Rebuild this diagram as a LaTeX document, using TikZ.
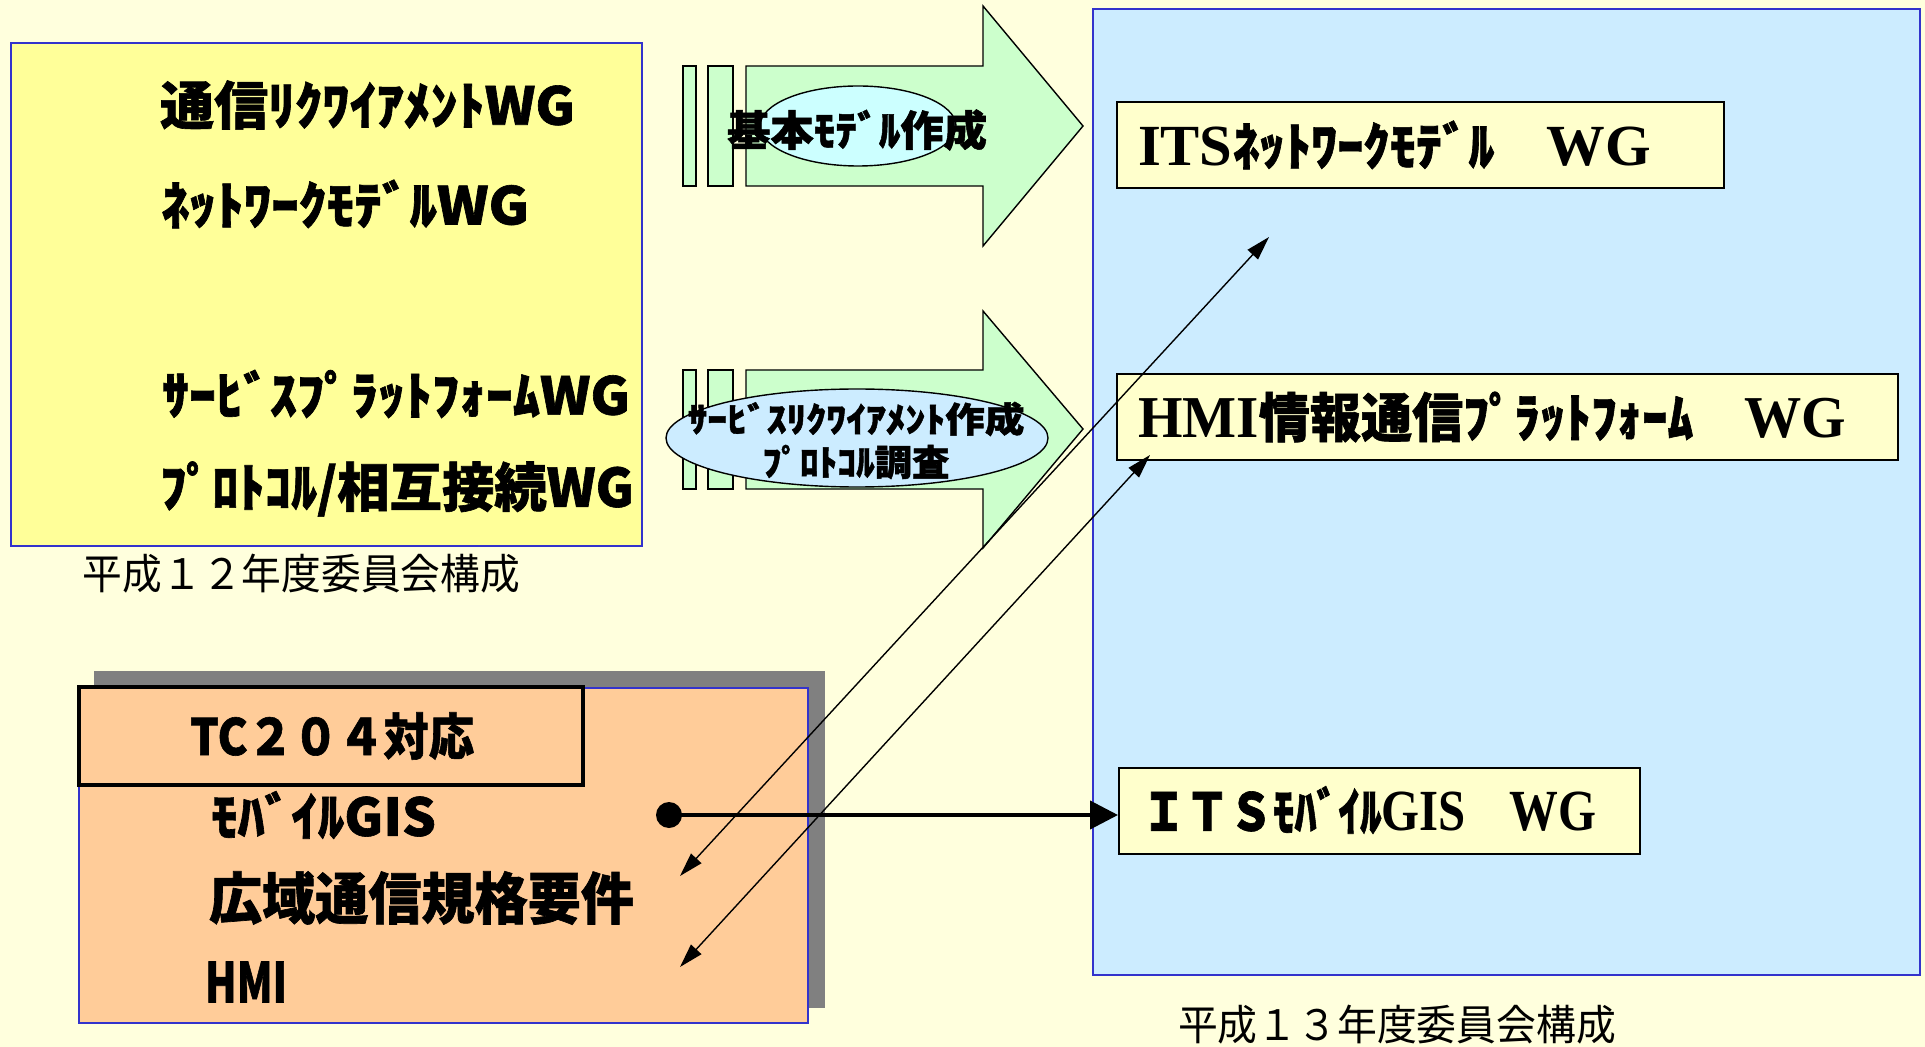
\documentclass[tikz,border=0pt]{standalone}
\usepackage{fontspec}
\usepackage{graphicx}
\usetikzlibrary{arrows.meta,fit,shapes.geometric}
\newfontfamily\goth{Noto Sans CJK JP}[BoldFeatures={FakeBold=1.2}]
\newfontfamily\gothr{Noto Sans CJK JP}
\newfontfamily\serifb{Liberation Serif}[Scale=1.12]
\newlength\px \setlength\px{0.5pt}
% #1 = target width (px), #2 = font size (px), #3 = text
\newcommand\fitxt[3]{\resizebox{#1\px}{\height}{\fontsize{#2\px}{#2\px}\selectfont #3}}
\definecolor{bgc}{HTML}{FFFFDD}
\definecolor{ybox}{HTML}{FFFF99}
\definecolor{bluel}{HTML}{3333CC}
\definecolor{grn}{HTML}{CCFFCC}
\definecolor{cyanl}{HTML}{CCFFFF}
\definecolor{skyl}{HTML}{CCECFF}
\definecolor{wgc}{HTML}{FFFFCC}
\definecolor{orng}{HTML}{FFCC99}
\definecolor{shd}{HTML}{808080}
\begin{document}
\begin{tikzpicture}[x=0.5pt,y=-0.5pt,
  lab/.style={anchor=west, inner sep=0pt, outer sep=0pt},
  clab/.style={anchor=center, inner sep=0pt, outer sep=0pt},
  wgbox/.style={draw=black, line width=1pt, fill=wgc, inner sep=0pt},
  bigarrow/.style={draw=black, line width=0.7pt, fill=grn},
  oval/.style={draw=black, ellipse, line width=0.7pt, inner sep=0pt},
  linkarrow/.style={line width=0.7pt, {Triangle[length=12pt,width=7pt]}-{Triangle[length=12pt,width=7pt]}},
  fatarrow/.style={line width=2pt, -{Triangle[length=14pt,width=14pt]}},
]
\useasboundingbox (0,0) rectangle (1925,1047);
\fill[bgc] (0,0) rectangle (1925,1047);

% ---- left yellow panel (H12)
\node[fit={(11,43) (642,546)}, inner sep=0pt, draw=bluel, line width=0.8pt, fill=ybox] (old) {};
\node[lab] (o1) at (160,105) {\fitxt{415}{52}{\goth\bfseries 通信ﾘｸﾜｲｱﾒﾝﾄWG}};
\node[lab] (o2) at (161,204) {\fitxt{368}{52}{\goth\bfseries ﾈｯﾄﾜｰｸﾓﾃﾞﾙWG}};
\node[lab] (o3) at (162,394) {\fitxt{468}{52}{\goth\bfseries ｻｰﾋﾞｽﾌﾟﾗｯﾄﾌｫｰﾑWG}};
\node[lab] (o4) at (160,489) {\fitxt{474}{53}{\goth\bfseries ﾌﾟﾛﾄｺﾙ/相互接続WG}};
\node[lab] (cap1) at (83,574) {\fitxt{437}{42}{\gothr 平成１２年度委員会構成}};

% ---- upper big arrow
\filldraw[bigarrow] (683,66) rectangle (696,186);
\filldraw[bigarrow] (708,66) rectangle (733,186);
\filldraw[bigarrow] (746,66) -- (983,66) -- (983,6) -- (1083,126) -- (983,246) -- (983,186) -- (746,186) -- cycle;
\node[oval, fill=cyanl, minimum width=98pt, minimum height=40pt] (e1) at (858,126) {};
\node[clab] (e1t) at (857,130) {\fitxt{260}{42}{\goth\bfseries 基本ﾓﾃﾞﾙ作成}};

% ---- lower big arrow
\filldraw[bigarrow] (683,370) rectangle (696,489);
\filldraw[bigarrow] (708,370) rectangle (733,489);
\filldraw[bigarrow] (746,370) -- (983,370) -- (983,311) -- (1083,429) -- (983,548) -- (983,489) -- (746,489) -- cycle;
\node[oval, fill=skyl, minimum width=191pt, minimum height=49pt] (e2) at (857,438) {};
\node[clab] (e2a) at (856,419) {\fitxt{337}{35}{\goth\bfseries ｻｰﾋﾞｽﾘｸﾜｲｱﾒﾝﾄ作成}};
\node[clab] (e2b) at (856,462) {\fitxt{187}{36}{\goth\bfseries ﾌﾟﾛﾄｺﾙ調査}};

% ---- right blue panel (H13)
\node[fit={(1093,9) (1920,975)}, inner sep=0pt, draw=bluel, line width=1.2pt, fill=skyl] (new) {};
\node[wgbox, fit={(1117,102) (1724,188)}] (n1) {};
\node[lab] (n1t) at (1138,145) {\fitxt{513}{52}{\bfseries\serifb ITS\goth ﾈｯﾄﾜｰｸﾓﾃﾞﾙ　\serifb WG}};
\node[wgbox, fit={(1117,374) (1898,460)}] (n2) {};
\node[lab] (n2t) at (1138,417) {\fitxt{708}{53}{\bfseries\serifb HMI\goth 情報通信ﾌﾟﾗｯﾄﾌｫｰﾑ　\serifb WG}};
\node[wgbox, fit={(1119,768) (1640,854)}] (n3) {};
\node[lab] (n3t) at (1142,810) {\fitxt{454}{52}{\bfseries\goth ＩＴＳﾓﾊﾞｲﾙ\serifb GIS\goth 　\serifb WG}};
\node[lab] (cap2) at (1178,1025) {\fitxt{438}{42}{\gothr 平成１３年度委員会構成}};

% ---- orange panel (TC204)
\fill[shd] (94,671) rectangle (825,1008);
\node[fit={(79,688) (808,1023)}, inner sep=0pt, draw=bluel, line width=0.6pt, fill=orng] (tc) {};
\node[fit={(79,687) (583,785)}, inner sep=0pt, draw=black, line width=1.8pt, fill=orng] (tchead) {};
\node[lab] (tct) at (190,736) {\fitxt{284}{50}{\goth\bfseries TC２０４対応}};
\node[lab] (mg) at (211,815) {\fitxt{225}{52}{\goth\bfseries ﾓﾊﾞｲﾙGIS}};
\node[lab] (kw) at (209,898) {\fitxt{425}{56}{\goth\bfseries 広域通信規格要件}};
\node[lab] (hmi) at (205,982) {\fitxt{82}{55}{\goth\bfseries HMI}};

% ---- connectors
\node[circle, fill=black, minimum size=13pt, inner sep=0pt] (dot) at (669,815) {};
\draw[fatarrow] (dot.center) -- (dot.center -| n3.west);
\coordinate (a1s) at (680,876);
\coordinate (a1e) at (1269,237);
\coordinate (a2s) at (680,967);
\coordinate (a2e) at (1150,455);
\draw[linkarrow] (a1s) -- (a1e);
\draw[linkarrow] (a2s) -- (a2e);
\end{tikzpicture}
\end{document}
